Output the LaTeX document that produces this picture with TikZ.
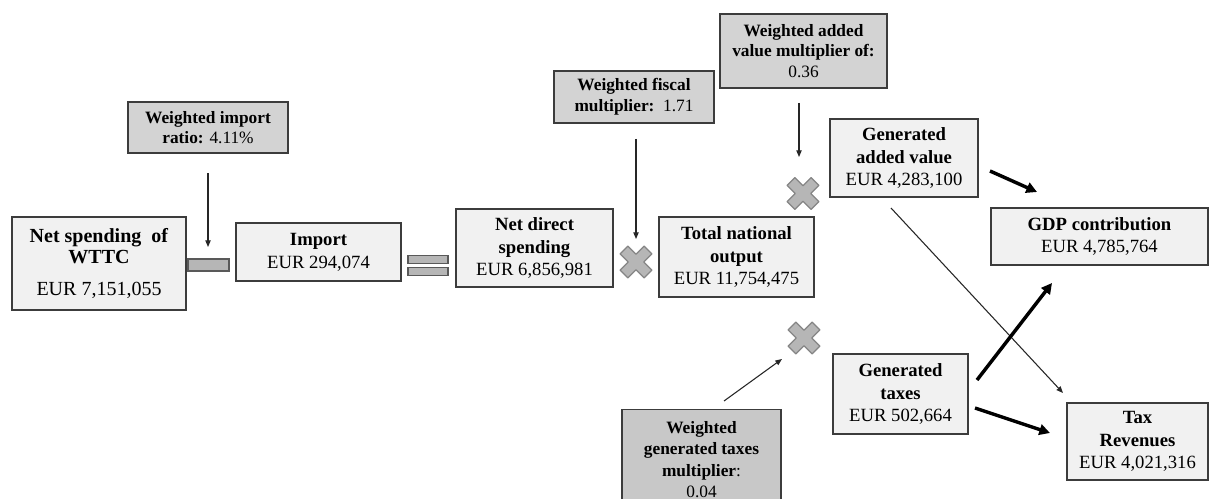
\documentclass[tikz,border=0pt]{standalone}
\usepackage{fontspec}
\setmainfont{Liberation Serif}
\usetikzlibrary{arrows.meta}
\definecolor{param}{HTML}{D3D3D3}
\definecolor{paramdark}{HTML}{C8C8C8}
\definecolor{val}{HTML}{F1F1F1}
\definecolor{edge}{HTML}{3C3C3C}
\definecolor{xfill}{HTML}{B6B6B6}
\definecolor{xedge}{HTML}{858585}
\tikzset{
 sz/.style 2 args={minimum width=#1*0.75pt, minimum height=#2*0.75pt},
 valbox/.style={draw=edge, line width=1pt, fill=val, inner sep=0pt, align=center, font=\fontsize{14}{17}\selectfont},
 parbox/.style={draw=edge, line width=1pt, fill=param, inner sep=0pt, align=center, font=\fontsize{13}{15.5}\selectfont},
 opbar/.style={draw=edge!85, line width=0.9pt, fill=xfill, inner sep=0pt},
 thinarrow/.style={-{Triangle[length=5pt,width=4pt]}, line width=0.8pt, draw=black!85},
 bigarrow/.style={-{Triangle[length=8pt,width=8pt]}, line width=2.6pt, draw=black},
 xmark/.pic={\filldraw[fill=xfill, draw=xedge, line width=0.9pt, rotate=45, line join=round]
   (5.5,5.5)--(17,5.5)--(17,-5.5)--(5.5,-5.5)--(5.5,-17)--(-5.5,-17)--(-5.5,-5.5)--(-17,-5.5)--(-17,5.5)--(-5.5,5.5)--(-5.5,17)--(5.5,17)--cycle;}
}
\begin{document}
\begin{tikzpicture}[x=0.75pt,y=-0.75pt]
\useasboundingbox (0,0) rectangle (1209,499);
\fill[white] (0,0) rectangle (1209,499);

% boxes
\node[parbox, sz={160}{51}] (impr) at (208,127.5) {\textbf{Weighted import}\\\textbf{ratio:} 4.11\%};
\node[valbox, sz={174}{93}, font=\fontsize{15}{16}\selectfont] (ns) at (99,263.5) {\textbf{Net spending\ \ of}\\\textbf{WTTC}\\[8pt]EUR 7,151,055};
\node[opbar, sz={41}{12}] (minus) at (208.5,265) {};
\node[valbox, sz={165}{58}] (imp) at (318.5,252) {\textbf{Import}\\EUR 294,074};
\node[opbar, sz={40}{7.5}] (eqa) at (428,259.5) {};
\node[opbar, sz={40}{8.5}] (eqb) at (428,271.5) {};
\node[valbox, sz={157}{78}] (nd) at (534.5,248) {\textbf{Net direct}\\\textbf{spending}\\EUR 6,856,981};
\node[parbox, sz={160}{52}] (fis) at (634,97) {\textbf{Weighted fiscal}\\\textbf{multiplier:}\ \ 1.71};
\node[valbox, sz={155}{80}] (tno) at (736.5,257) {\textbf{Total national}\\\textbf{output}\\EUR 11,754,475};
\node[parbox, sz={167}{74}] (avm) at (803.5,51) {\textbf{Weighted added}\\\textbf{value multiplier of:}\\0.36};
\node[valbox, sz={148}{78}] (gav) at (904,158) {\textbf{Generated}\\\textbf{added\ value}\\EUR 4,283,100};
\node[valbox, sz={217}{57}] (gdp) at (1099.5,236.5) {\textbf{GDP contribution}\\EUR 4,785,764};
\node[parbox, fill=paramdark, sz={159}{100}, anchor=north, font=\fontsize{13}{16}\selectfont] (wgt) at (701.5,409) {\textbf{Weighted}\\\textbf{generated taxes}\\\textbf{multiplier}:\\0.04};
\node[valbox, sz={135}{80}] (gt) at (900.5,394) {\textbf{Generated}\\\textbf{taxes}\\EUR 502,664};
\node[valbox, sz={141}{77}] (tr) at (1137.5,441.5) {\textbf{Tax}\\\textbf{Revenues}\\EUR 4,021,316};

% multiplication marks
\coordinate (xa) at (636,262);
\coordinate (xb) at (803,193.5);
\coordinate (xc) at (804,338);
\pic at (xa) {xmark};
\pic at (xb) {xmark};
\pic at (xc) {xmark};

% connector ends
\coordinate (p1s) at (208,173); \coordinate (p1e) at (208,247);
\coordinate (p2s) at (636,139); \coordinate (p2e) at (636,239);
\coordinate (p3s) at (799,103); \coordinate (p3e) at (799,157);
\coordinate (p4s) at (724,401); \coordinate (p4e) at (782,359);
\coordinate (q1s) at (990,171); \coordinate (q1e) at (1037,192);
\coordinate (q2s) at (891,208); \coordinate (q2e) at (1063,393);
\coordinate (q3s) at (977,380); \coordinate (q3e) at (1052,283);
\coordinate (q4s) at (975,408); \coordinate (q4e) at (1050,433);

\draw[thinarrow] (p1s) -- (p1e);
\draw[thinarrow] (p2s) -- (p2e);
\draw[thinarrow] (p3s) -- (p3e);
\draw[thinarrow] (p4s) -- (p4e);
\draw[thinarrow] (q2s) -- (q2e);
\draw[bigarrow] (q1s) -- (q1e);
\draw[bigarrow] (q3s) -- (q3e);
\draw[bigarrow] (q4s) -- (q4e);
\end{tikzpicture}
\end{document}
